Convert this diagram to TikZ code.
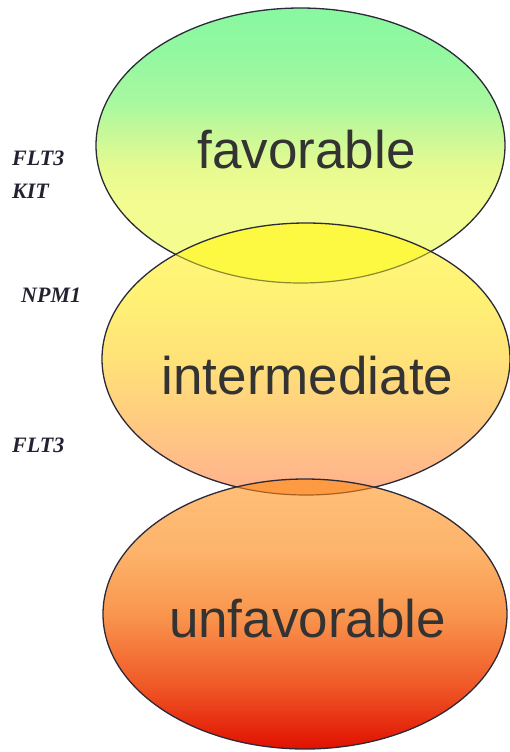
\documentclass[tikz,border=0pt]{standalone}
\usepackage{fontspec}
\setmainfont{Liberation Serif}
\newfontfamily\sansf{Liberation Sans}
\definecolor{edge}{HTML}{2A2A38}
\definecolor{lensA}{HTML}{FDF842}
\definecolor{lensB}{HTML}{FD9A42}
\definecolor{fadeA}{HTML}{8C8A30}
\definecolor{fadeB}{HTML}{A86020}
\definecolor{labtxt}{HTML}{333333}
\definecolor{gene}{HTML}{222230}
\definecolor{fa}{HTML}{F5FC8E}
\definecolor{fb}{HTML}{F2FC90}
\definecolor{fc}{HTML}{E6FA90}
\definecolor{fd}{HTML}{C8F898}
\definecolor{fe}{HTML}{A8F8A0}
\definecolor{ff}{HTML}{92F8A0}
\definecolor{fg}{HTML}{88F8A0}
\pgfdeclareverticalshading{favsh}{100bp}{color(0bp)=(fa); color(25bp)=(fa); color(40bp)=(fb); color(46bp)=(fc); color(52bp)=(fd); color(58bp)=(fe); color(67bp)=(ff); color(75bp)=(fg); color(100bp)=(fg)}
\definecolor{ua}{HTML}{E01000}
\definecolor{ub}{HTML}{F05A28}
\definecolor{uc}{HTML}{F9964E}
\definecolor{ud}{HTML}{FDB46C}
\definecolor{ue}{HTML}{FFBF78}
\pgfdeclareverticalshading{unfsh}{100bp}{color(0bp)=(ua); color(25bp)=(ua); color(37bp)=(ub); color(50bp)=(uc); color(62bp)=(ud); color(75bp)=(ue); color(100bp)=(ue)}
\definecolor{ia}{HTML}{FFB08E}
\definecolor{ib}{HTML}{FFC882}
\definecolor{ic}{HTML}{FFE278}
\definecolor{id}{HTML}{FFF274}
\definecolor{ie}{HTML}{FFF87E}
\pgfdeclareverticalshading{intsh}{100bp}{color(0bp)=(ia); color(25bp)=(ia); color(37bp)=(ib); color(50bp)=(ic); color(62bp)=(id); color(75bp)=(ie); color(100bp)=(ie)}
\begin{document}
\begin{tikzpicture}[x=1pt,y=-1pt,
  rim/.style={draw=edge,line width=1.3pt},
  faint/.style={line width=1.2pt},
  risk/.style={font=\sansf\fontsize{53}{60}\selectfont,text=labtxt,anchor=base,inner sep=0pt},
  genelab/.style={font=\bfseries\itshape\fontsize{22}{26}\selectfont,text=gene,anchor=base west,inner sep=0pt}]
\useasboundingbox (0,0) rectangle (510,752);
\def\topE{(300.5,145.5) ellipse [x radius=204.5pt, y radius=137.5pt]}
\def\midE{(306,359) ellipse [x radius=204pt, y radius=136pt]}
\def\botE{(305,614) ellipse [x radius=202pt, y radius=135pt]}
% top ellipse
\shade[shading=favsh] \topE;
\draw[rim] \topE;
% middle ellipse
\shade[shading=intsh] \midE;
\begin{scope}
  \clip \topE;
  \fill[lensA] \midE;
\end{scope}
\begin{scope}
  \clip \midE;
  \draw[faint,draw=fadeA] \topE;
\end{scope}
\draw[rim] \midE;
% bottom ellipse
\shade[shading=unfsh] \botE;
\begin{scope}
  \clip \midE;
  \fill[lensB] \botE;
\end{scope}
\begin{scope}
  \clip \botE;
  \draw[faint,draw=fadeB] \midE;
\end{scope}
\draw[rim] \botE;
% labels
\node[risk] (fav) at (306.5,168) {favorable};
\node[risk] (inter) at (307.5,394) {intermediate};
\node[risk] (unfav) at (307.5,637) {unfavorable};
\node[genelab] (flta) at (12,165) {FLT3};
\node[genelab] (kit) at (12,198) {KIT};
\node[genelab] (npm) at (21,302) {NPM1};
\node[genelab] (fltb) at (12,452) {FLT3};
\end{tikzpicture}
\end{document}
